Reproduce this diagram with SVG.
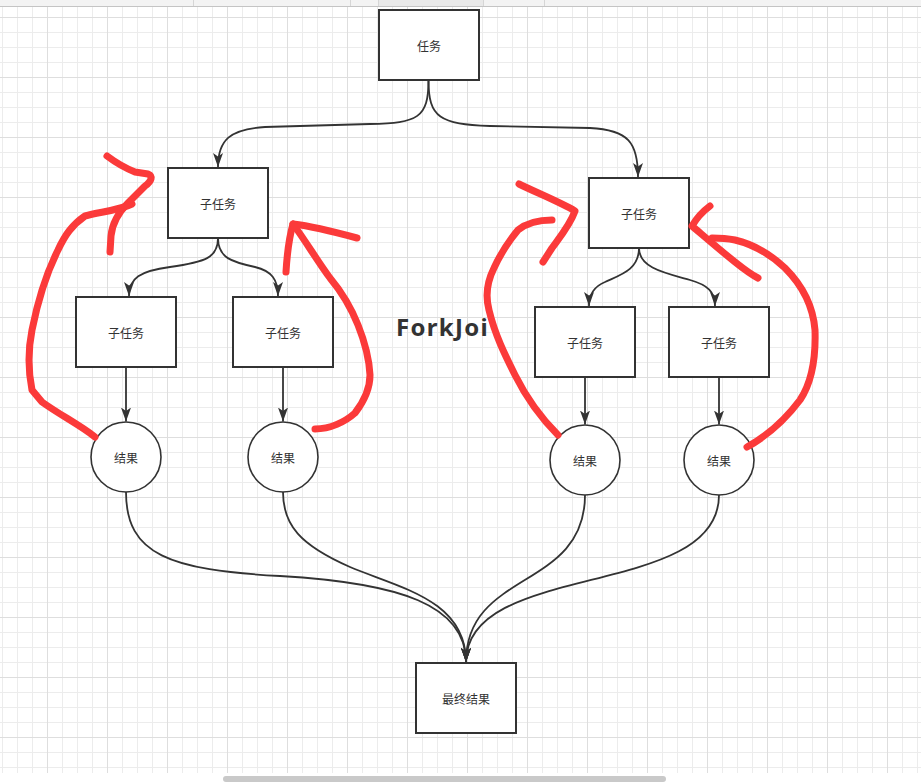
<svg xmlns="http://www.w3.org/2000/svg" width="921" height="783" viewBox="0 0 921 783">
<style>
.box{fill:#fff;stroke:#333;stroke-width:2}
.cir{fill:#fff;stroke:#333;stroke-width:1.6}
.lbl{font-family:"Noto Sans CJK SC","Noto Sans",sans-serif;font-size:12px;fill:#333;text-anchor:middle;dominant-baseline:central}
.edge{fill:none;stroke:#333;stroke-width:1.8}
.red{fill:none;stroke:#fb3a3a;stroke-width:7;stroke-linecap:round;stroke-linejoin:round}
</style>
<defs>
<pattern id="minor" x="2" y="2" width="15" height="15" patternUnits="userSpaceOnUse"><path d="M0,0.5H15M0.5,0V15" stroke="#ececec" stroke-width="1" fill="none"/></pattern>
<pattern id="major" x="47" y="17" width="60" height="60" patternUnits="userSpaceOnUse"><path d="M0,0.5H60M0.5,0V60" stroke="#dedede" stroke-width="1" fill="none"/></pattern>
<marker id="ah" viewBox="0 0 14 10" refX="14" refY="5" markerWidth="14" markerHeight="10" markerUnits="userSpaceOnUse" orient="auto"><path d="M0,0L14,5L0,10L3.5,5z" fill="#333"/></marker>
</defs>
<rect width="921" height="783" fill="#fff"/>
<g id="grid">
<rect x="0" y="7" width="921" height="766" fill="url(#minor)"/>
<rect x="0" y="7" width="921" height="766" fill="url(#major)"/>
</g>
<g id="chrome">
<rect x="0" y="0" width="921" height="6" fill="#f3f3f3"/>
<rect x="378" y="0" width="105" height="6" fill="#e9e9e9"/>
<path d="M0,6.5H921" stroke="#c4c4c4" stroke-width="1"/>
<path d="M193.5,0V6M350.5,0V6M378.5,0V6M483.5,0V6M544.5,0V6" stroke="#d6d6d6" stroke-width="1"/>
<rect x="223" y="776" width="443" height="6" rx="3" fill="#c9c9c9"/>
</g>
<g id="connectors">
<path class="edge" marker-end="url(#ah)" d="M428.5,80C428.5,118 418,123 370,124L265,127C230,129 218,140 218,167"/>
<path class="edge" marker-end="url(#ah)" d="M428.5,80C428.5,118 440,124 490,126L590,128C628,130 638,142 638,177"/>
<path class="edge" marker-end="url(#ah)" d="M218,238C218,258 205,262 170,267C140,271 129,278 129,296"/>
<path class="edge" marker-end="url(#ah)" d="M218,238C218,258 232,262 255,267C272,271 278,280 278,296"/>
<path class="edge" marker-end="url(#ah)" d="M639,248C639,270 620,275 605,282C593,287 589,295 589,306"/>
<path class="edge" marker-end="url(#ah)" d="M639,248C639,268 665,273 690,280C708,285 715,292 715,306"/>
<path class="edge" marker-end="url(#ah)" d="M126,367L126,421.5"/>
<path class="edge" marker-end="url(#ah)" d="M283,367L283,421.5"/>
<path class="edge" marker-end="url(#ah)" d="M585,377L585,424.5"/>
<path class="edge" marker-end="url(#ah)" d="M719,377L719,424.5"/>
<path class="edge" marker-end="url(#ah)" d="M126,492C126,555 170,570 280,576C400,583 466,605 466,662"/>
<path class="edge" marker-end="url(#ah)" d="M283,492C283,525 300,545 350,567C400,588 466,600 466,662"/>
<path class="edge" marker-end="url(#ah)" d="M585,495C585,590 466,570 466,662"/>
<path class="edge" marker-end="url(#ah)" d="M719,495C719,600 466,560 466,662"/>
</g>
<g id="n-task"><rect class="box" x="379" y="10" width="100" height="70"/><text class="lbl" x="429" y="45">任务</text></g>
<g id="n-sub-left"><rect class="box" x="168" y="168" width="100" height="70"/><text class="lbl" x="218" y="203">子任务</text></g>
<g id="n-sub-right"><rect class="box" x="589" y="178" width="100" height="70"/><text class="lbl" x="639" y="213">子任务</text></g>
<g id="n-sub-ll"><rect class="box" x="76" y="297" width="100" height="70"/><text class="lbl" x="126" y="332">子任务</text></g>
<g id="n-sub-lr"><rect class="box" x="233" y="297" width="100" height="70"/><text class="lbl" x="283" y="332">子任务</text></g>
<g id="n-sub-rl"><rect class="box" x="535" y="307" width="100" height="70"/><text class="lbl" x="585" y="342">子任务</text></g>
<g id="n-sub-rr"><rect class="box" x="669" y="307" width="100" height="70"/><text class="lbl" x="719" y="342">子任务</text></g>
<g id="n-res-ll"><circle class="cir" cx="126" cy="457" r="35"/><text class="lbl" x="126" y="457">结果</text></g>
<g id="n-res-lr"><circle class="cir" cx="283" cy="457" r="35"/><text class="lbl" x="283" y="457">结果</text></g>
<g id="n-res-rl"><circle class="cir" cx="585" cy="460" r="35"/><text class="lbl" x="585" y="460">结果</text></g>
<g id="n-res-rr"><circle class="cir" cx="719" cy="460" r="35"/><text class="lbl" x="719" y="460">结果</text></g>
<g id="n-final"><rect class="box" x="416" y="663" width="100" height="70"/><text class="lbl" x="466" y="698">最终结果</text></g>
<g id="title"><text x="396" y="336" font-family="'Noto Sans',sans-serif" font-weight="bold" font-size="24" letter-spacing="1.3" fill="#333">ForkJoi</text></g>
<g id="annotations">
<path class="red" d="M107,156C115,162 125,168 135,172L148,174C153,176 152,181 145,186L128,203C118,213 112,225 111,236L110,252"/>
<path class="red" d="M95,437C80,425 60,415 42,402L32,390C28,370 28,350 32,330C38,300 48,270 58,250C65,235 72,225 85,216C100,212 120,210 132,204"/>
<path class="red" d="M286,272C287,255 289,238 293,224C310,226 335,232 357,238"/>
<path class="red" d="M315,429C330,429 345,422 355,413C365,400 370,388 370,375C369,355 364,340 358,325C350,305 340,290 330,278C318,262 305,240 293,224"/>
<path class="red" d="M519,184C535,192 560,202 575,211C570,225 560,237 552,248L543,262"/>
<path class="red" d="M558,435C540,417 525,395 515,375C505,355 495,335 489,310C485,295 487,282 494,268C500,255 508,242 518,230C528,222 540,220 552,220"/>
<path class="red" d="M710,206C702,212 696,219 692,226C705,237 720,250 735,262C745,270 752,275 758,278"/>
<path class="red" d="M747,447C765,437 785,420 800,400C812,382 816,360 815,330C813,305 802,285 785,268C770,254 752,244 735,240C725,238 718,238 712,238"/>
</g>
</svg>
